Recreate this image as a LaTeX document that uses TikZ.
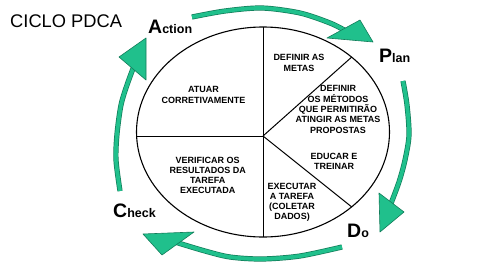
\documentclass[tikz,border=0pt]{standalone}
\usepackage{fontspec}
\setmainfont{Liberation Sans}
\usetikzlibrary{calc}
\definecolor{greenF}{RGB}{32,192,140}
\definecolor{greenD}{RGB}{18,125,90}
\begin{document}
\begin{tikzpicture}[x=1pt,y=-1pt,
  sector/.style={font=\bfseries\fontsize{9}{10.3}\selectfont, align=center, inner sep=0pt},
  shaft/.style={draw=greenD, line width=0.7pt, double=greenF, double distance=3.8pt},
  head/.style={fill=greenF, draw=greenD, line width=0.6pt, line join=round},
  lbl/.style={anchor=base west, inner sep=0pt, font=\bfseries},
  rim/.style={draw=black, line width=1.1pt}]
\useasboundingbox[fill=white] (0,0) rectangle (498,268);

% title
\node[anchor=base west, inner sep=0pt, font=\fontsize{18.3}{20}\selectfont] (title) at (10,27) {CICLO PDCA};

% central ellipse and its divisions
\coordinate (ctr) at (263,132);
\coordinate (hub) at (263,136);
\coordinate (eTop) at (263,27);
\coordinate (eBot) at (263,237);
\coordinate (eLeft) at (136.6,136);
\coordinate (eUR) at ($(ctr)+(-45.5:126.5 and 105)$);
\coordinate (eLR) at ($(ctr)+(45.5:126.5 and 105)$);
\draw[rim] (ctr) ellipse [x radius=126.5, y radius=105];
\draw[line width=1pt] (eTop) -- (eBot);
\draw[line width=1pt] (hub) -- (eLeft);
\draw[line width=1pt] (hub) -- (eUR);
\draw[line width=1pt] (hub) -- (eLR);

% sector texts
\node[sector] (atuar) at (203.5,95) {ATUAR\\CORRETIVAMENTE};
\node[sector] (metas) at (299,63) {DEFINIR AS\\METAS};
\node[sector] (metodos) at (338,109.5) {DEFINIR\\OS MÉTODOS\\QUE PERMITIRÃO\\ATINGIR AS METAS\\PROPOSTAS};
\node[sector] (educar) at (334,161.7) {EDUCAR E\\TREINAR};
\node[sector] (executar) at (292,202.3) {EXECUTAR\\A TAREFA\\(COLETAR\\DADOS)};
\node[sector] (verificar) at (207.7,175.4) {VERIFICAR OS\\RESULTADOS DA\\TAREFA\\EXECUTADA};

% cycle arrows
\draw[shaft] plot[smooth] coordinates {(192,17) (225,11) (262,8) (300,13) (330,23) (346,31)};
\draw[shaft] plot[smooth] coordinates {(403,81) (407,105) (409,135) (405,160) (399,182) (390,206)};
\draw[shaft] plot[smooth] coordinates {(342,247) (300,256) (262,259) (230,257) (205,251) (175,242)};
\draw[shaft] plot[smooth] coordinates {(120,191) (116,160) (117,134) (121,105) (127,85) (134,66)};
\draw[head] (327,38) -- (360,20) -- (373,42) -- cycle;
\draw[head] (379,193) -- (404,212) -- (380,232) -- cycle;
\draw[head] (194,232) -- (162,255) -- (143,234) -- cycle;
\draw[head] (119,57) -- (146,80) -- (146,38) -- cycle;

% PDCA labels
\node[lbl] (act) at (148,33) {{\fontsize{19.5}{20}\selectfont A}{\fontsize{12.5}{14}\selectfont ction}};
\node[lbl] (plan) at (379,62) {{\fontsize{19.5}{20}\selectfont P}{\fontsize{12.5}{14}\selectfont lan}};
\node[lbl] (do) at (347,237) {{\fontsize{19.5}{20}\selectfont D}{\fontsize{12.5}{14}\selectfont o}};
\node[lbl] (check) at (113,217) {{\fontsize{19.5}{20}\selectfont C}{\fontsize{12.5}{14}\selectfont heck}};
\end{tikzpicture}
\end{document}
